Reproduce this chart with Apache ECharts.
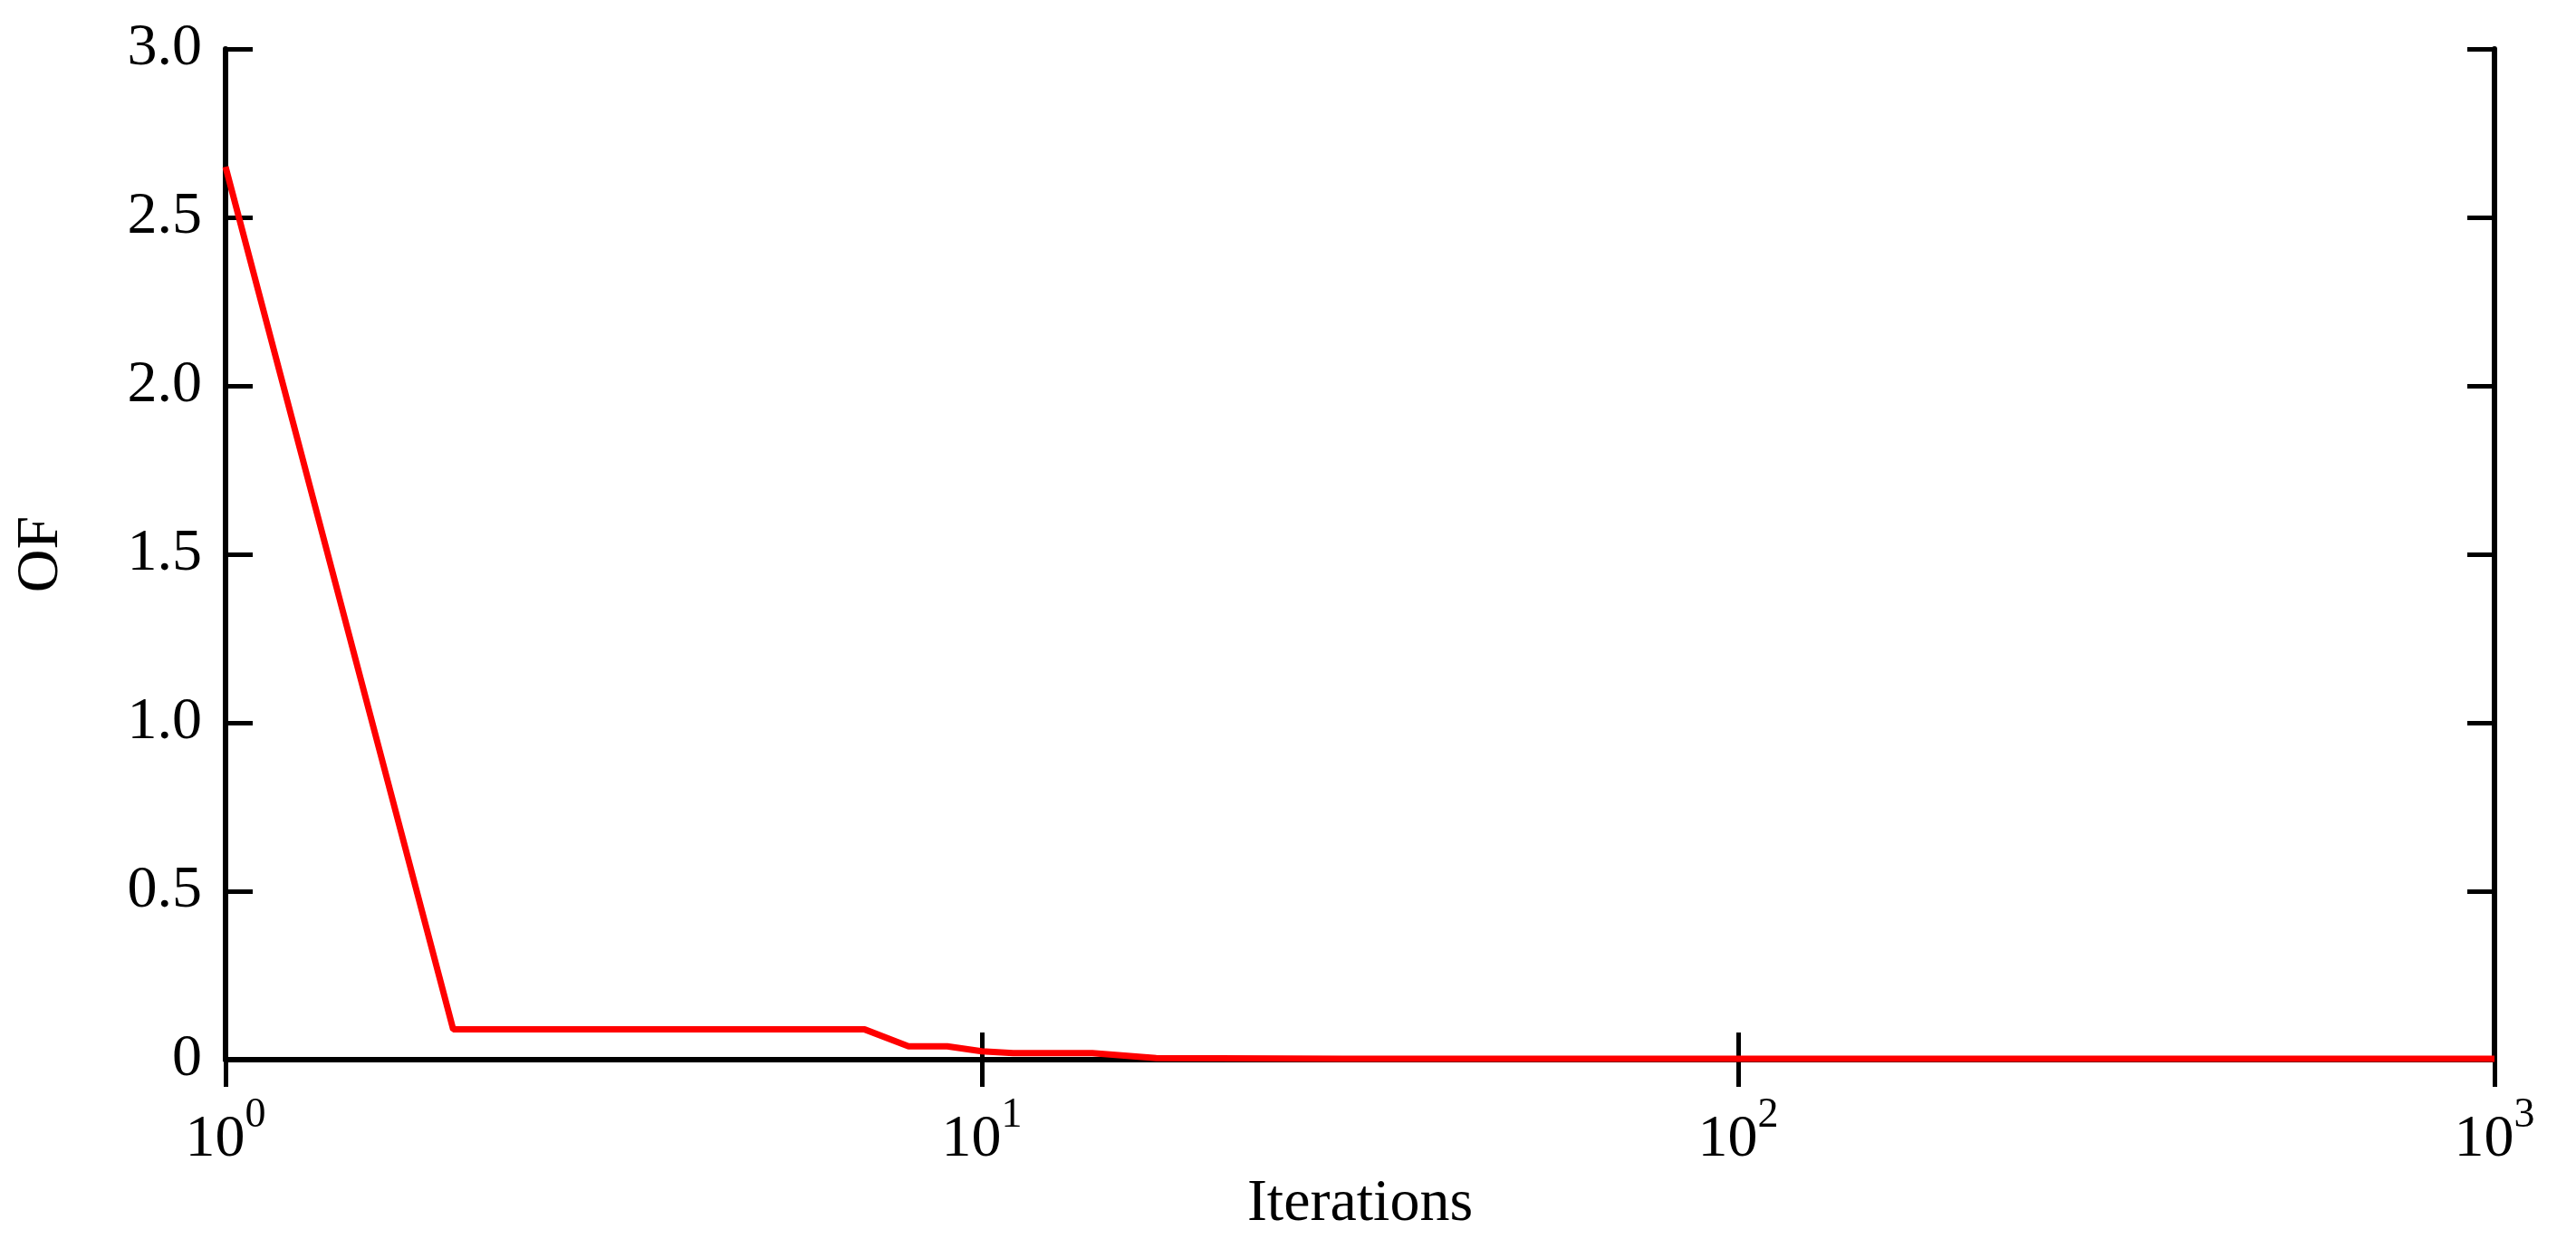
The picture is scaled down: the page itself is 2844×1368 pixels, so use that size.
<!DOCTYPE html>
<html>
<head>
<meta charset="UTF-8">
<title>OF vs Iterations</title>
<script src="https://cdn.jsdelivr.net/npm/echarts@6/dist/echarts.min.js"></script>
</head>
<body style="margin:0;background:#fff">
<div id="main" style="width:2844px;height:1368px;"></div>
<script type="text/javascript">
// iterations and objective function values
var iterations = [1, 2, 7, 8, 9, 10, 11, 14, 17, 30, 1000];
var ofValues = [2.65, 0.09, 0.09, 0.04, 0.04, 0.025, 0.02, 0.02, 0.005, 0.003, 0.003];
var yTicks = [0, 0.5, 1.0, 1.5, 2.0, 2.5, 3.0];

var font = 'Liberation Serif';
var chart = echarts.init(document.getElementById('main'));
var axisLine = { show: true, lineStyle: { color: '#000', width: 6 } };
var tick = { show: true, inside: true, length: 30, lineStyle: { color: '#000', width: 5 } };

chart.setOption({
    animation: false,
    grid: { left: 249, right: 90, top: 54, bottom: 185 },
    xAxis: [{
        type: 'log', min: 1, max: 1000, logBase: 10,
        axisLine: axisLine, axisTick: tick, minorTick: { show: false },
        splitLine: { show: false },
        axisLabel: {
            margin: 26,
            formatter: function (v) { return '{b|10}{s|' + Math.round(Math.log10(v)) + '}'; },
            rich: {
                b: { fontFamily: font, fontSize: 66, color: '#000', padding: [30, 0, 0, 0] },
                s: { fontFamily: font, fontSize: 46, color: '#000', padding: [0, 0, 24, 0] }
            }
        },
        name: 'Iterations', nameLocation: 'middle', nameGap: 120,
        nameTextStyle: { fontFamily: font, fontSize: 66, color: '#000' }
    }, {
        type: 'log', min: 1, max: 1000, position: 'top',
        axisLine: axisLine, axisTick: tick, axisLabel: { show: false }, splitLine: { show: false }
    }],
    yAxis: [{
        type: 'value', min: 0, max: 3, interval: 0.5,
        axisLine: axisLine, axisTick: tick, splitLine: { show: false },
        axisLabel: {
            margin: 26, fontFamily: font, fontSize: 66, color: '#000',
            formatter: function (v) { return v === 0 ? '0' : v.toFixed(1); }
        },
        name: 'OF', nameLocation: 'middle', nameGap: 170,
        nameTextStyle: { fontFamily: font, fontSize: 66, color: '#000' }
    }, {
        type: 'value', min: 0, max: 3, interval: 0.5, position: 'right',
        axisLine: axisLine, axisTick: tick, axisLabel: { show: false }, splitLine: { show: false }
    }],
    series: [{
        type: 'line',
        data: iterations.map(function (x, i) { return [x, ofValues[i]]; }),
        showSymbol: false,
        lineStyle: { color: '#ff0000', width: 7 },
        z: 3
    }]
});
</script>
</body>
</html>
